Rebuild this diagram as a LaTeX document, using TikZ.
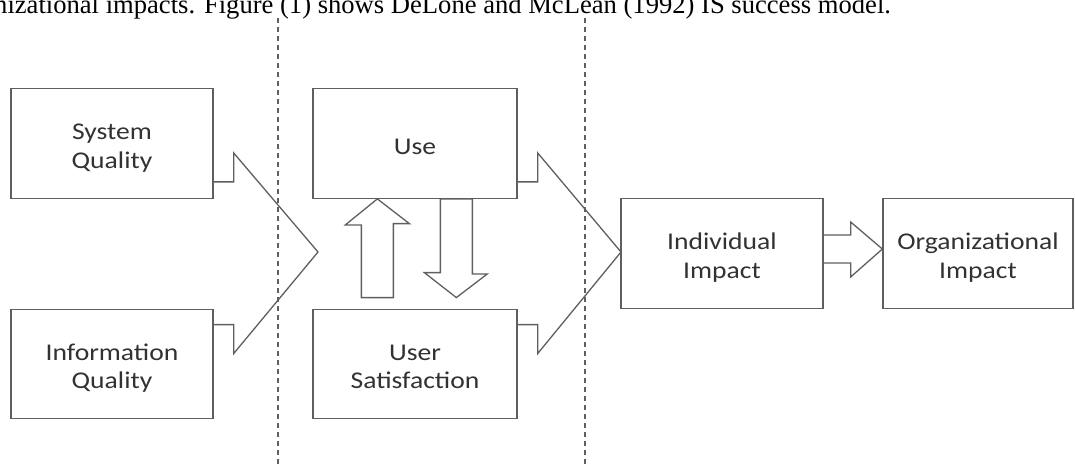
\documentclass[tikz,border=0pt]{standalone}
\usepackage{fontspec}
\setmainfont[FakeStretch=1.15]{Carlito}
\newfontfamily\timesf{Liberation Serif}
\usetikzlibrary{calc}
\definecolor{linec}{RGB}{95,95,95}
\definecolor{textc}{RGB}{50,50,50}
\begin{document}
\begin{tikzpicture}[x=1pt,y=-1pt,
  box/.style={draw=linec, line width=1.3pt, minimum width=202pt,
    inner xsep=0pt, inner ysep=0pt, align=center, text=textc,
    font=\fontsize{24}{28.5}\selectfont, text height=79.25pt, text depth=30.25pt},
  box1/.style={box, text height=66.25pt, text depth=43.25pt},
  blk/.style={draw=linec, line width=1.3pt, line join=miter},
  sep/.style={draw=linec, line width=1.8pt, dash pattern=on 5pt off 4pt}]
\useasboundingbox (0,0) rectangle (1075,465);
\fill[white] (0,0) rectangle (1075,465);
\clip (0,0) rectangle (1075,465);

% caption fragment
\node[anchor=base west, inner sep=0pt, font=\timesf\fontsize{26.6}{26.6}\selectfont] (cap) at (-6,14)
  {nizational impacts. Figure (1) shows DeLone and McLean (1992) IS success model.};

% boxes
\node[box] (sq)  at (112,143.5) {System\\Quality};
\node[box] (iq)  at (112,364)   {Information\\Quality};
\node[box1, minimum width=204pt] (use) at (415,143.5) {Use};
\node[box, minimum width=204pt] (us)  at (415,364)   {User\\Satisfaction};
\node[box] (ii)  at (722,253.5) {Individual\\Impact};
\node[box, minimum width=190pt] (oi) at (978,253.5) {Organizational\\Impact};

% tips
\coordinate (tip1) at (318,252);
\coordinate (tip2) at (621,252);

% big block arrow 1: quality boxes -> use / satisfaction
\draw[blk] ($(sq.south east)+(0,-17)$) -- ++(20,0) -- ++(0,-29) -- (tip1)
  -- ($(iq.north east)+(20,45)$) -- ++(0,-29) -- ($(iq.north east)+(0,16)$);

% big block arrow 2: use / satisfaction -> individual impact
\draw[blk] ($(use.south east)+(0,-17)$) -- ++(20,0) -- ++(0,-29) -- (tip2)
  -- ($(us.north east)+(20,45)$) -- ++(0,-29) -- ($(us.north east)+(0,16)$);

% up arrow: satisfaction -> use
\coordinate (upbase) at ($(us.north west)+(49,-11)$);
\draw[blk] (upbase) -- ++(32,0) -- ++(0,-74) -- ++(16,0) -- ($(use.south west)+(65,0)$)
  -- ++(-32,26) -- ++(16,0) -- cycle;

% down arrow: use -> satisfaction
\coordinate (dntop) at ($(use.south west)+(128,0)$);
\draw[blk] (dntop) -- ++(32,0) -- ++(0,75) -- ++(15,0) -- ($(us.north west)+(144,-11)$)
  -- ++(-32,-25) -- ++(16,0) -- cycle;

% small block arrow: individual -> organizational
\draw[blk] ($(ii.east)+(0,-18.5)$) -- ++(27,0) -- ++(0,-13) -- ($(oi.west)+(0,-4.5)$)
  -- ($(ii.east)+(27,23.5)$) -- ++(0,-14) -- ($(ii.east)+(0,9.5)$);

% dashed separators
\coordinate (s1t) at (278,18);  \coordinate (s1b) at (278,465);
\coordinate (s2t) at (585,18);  \coordinate (s2b) at (585,465);
\draw[sep] (s1t) -- (s1b);
\draw[sep] (s2t) -- (s2b);
\end{tikzpicture}
\end{document}
